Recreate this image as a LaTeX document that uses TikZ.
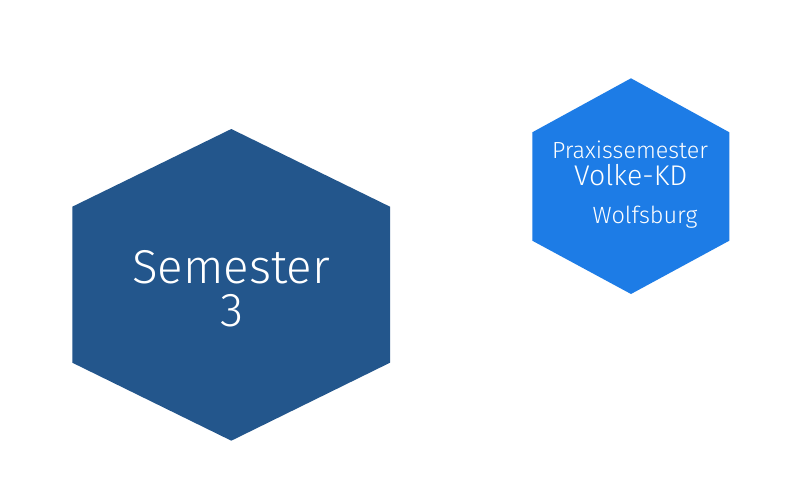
\documentclass[tikz,border=0pt]{standalone}
\usepackage{fontspec}
\setmainfont{Fira Sans Light}
\definecolor{darkhex}{RGB}{35,86,140}
\definecolor{lighthex}{RGB}{29,124,230}
\tikzset{
  hexfill/.style={fill=#1, draw=none},
  lbl/.style={text=white, inner sep=0pt, anchor=base},
}
\begin{document}
\begin{tikzpicture}[x=1pt,y=-1pt]
\useasboundingbox (0,0) rectangle (805,487);
\fill[white] (0,0) rectangle (805,487);
% big hexagon
\path[hexfill=darkhex] (231.3,129) -- (390,206.7) -- (390,362.7) -- (231.3,440.7) -- (72.3,362.7) -- (72.3,206.7) -- cycle;
\node[lbl, font=\fontsize{47.5}{47.5}\selectfont] (sem) at (231,283) {Semester};
\node[lbl, font=\fontsize{47.5}{47.5}\selectfont] (three) at (231.7,326) {3};
% small hexagon
\path[hexfill=lighthex] (631,78.3) -- (729.3,132.3) -- (729.3,240.7) -- (631,294) -- (532.3,240.7) -- (532.3,132.3) -- cycle;
\node[lbl, font=\fontsize{23.3}{23.3}\selectfont] (praxis) at (630,158.3) {Praxissemester};
\node[lbl, font=\fontsize{28.5}{28.5}\selectfont] (volke) at (630.8,185.7) {Volke-KD};
\node[lbl, font=\fontsize{23.5}{23.5}\selectfont] (wolf) at (645,223.3) {Wolfsburg};
\end{tikzpicture}
\end{document}
